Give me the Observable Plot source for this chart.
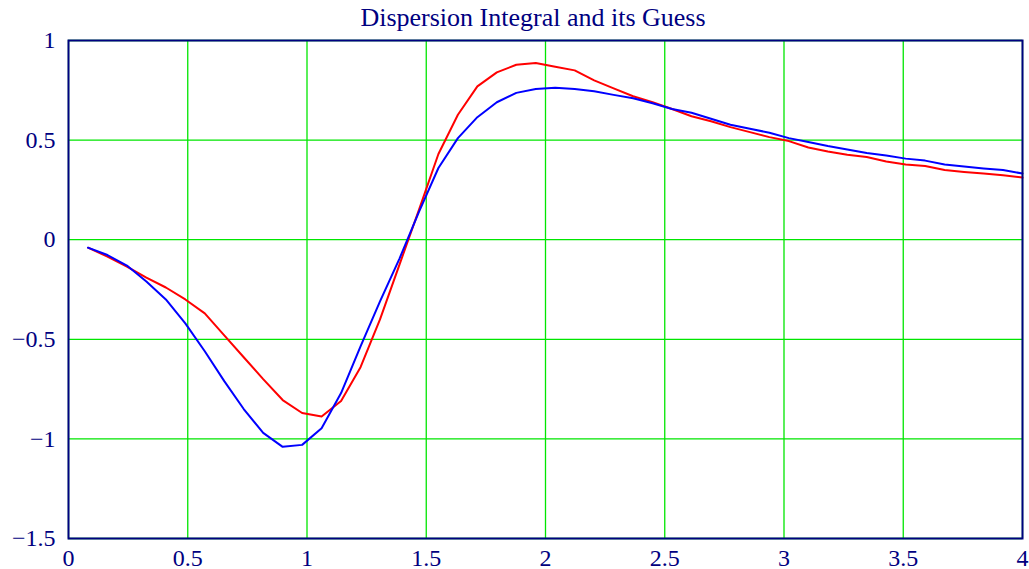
<!DOCTYPE html>
<html>
<head>
<meta charset="utf-8">
<script src="https://cdn.jsdelivr.net/npm/d3@7"></script>
<script src="https://cdn.jsdelivr.net/npm/@observablehq/plot@0.6"></script>
<style>
  html, body { margin: 0; padding: 0; background: #ffffff; }
  #wrap { position: relative; width: 1029px; height: 569px; }
  #title {
    position: absolute; top: 5px; left: 0; padding-left: 37px; width: 992px;
    line-height: 26px; font-family: "Liberation Serif", "Times New Roman", serif;
    font-size: 26px; color: #000080; text-align: center; white-space: nowrap; z-index: 2;
  }
  #chart svg { overflow: visible; }
</style>
</head>
<body>
<div id="wrap">
<div id="title">Dispersion Integral and its Guess</div>
<div id="chart"></div>
</div>
<script>
const xValues = [0.0816, 0.1633, 0.2449, 0.3265, 0.4082, 0.4898, 0.5714, 0.6531, 0.7347, 0.8163,
  0.8980, 0.9796, 1.0612, 1.1429, 1.2245, 1.3061, 1.3878, 1.4694, 1.5510, 1.6327,
  1.7143, 1.7959, 1.8776, 1.9592, 2.0408, 2.1224, 2.2041, 2.2857, 2.3673, 2.4490,
  2.5306, 2.6122, 2.6939, 2.7755, 2.8571, 2.9388, 3.0204, 3.1020, 3.1837, 3.2653,
  3.3469, 3.4286, 3.5102, 3.5918, 3.6735, 3.7551, 3.8367, 3.9184, 4.0000];
const guessRed = [-0.04, -0.085, -0.135, -0.19, -0.24, -0.30, -0.37, -0.48, -0.59, -0.70,
  -0.805, -0.87, -0.888, -0.81, -0.64, -0.40, -0.125, 0.15, 0.43, 0.627,
  0.77, 0.84, 0.878, 0.887, 0.868, 0.85, 0.80, 0.76, 0.72, 0.69,
  0.656, 0.62, 0.595, 0.565, 0.54, 0.515, 0.495, 0.463, 0.443, 0.427,
  0.415, 0.393, 0.378, 0.37, 0.35, 0.34, 0.332, 0.323, 0.312];
const integralBlue = [-0.04, -0.077, -0.13, -0.21, -0.30, -0.42, -0.56, -0.71, -0.85, -0.97,
  -1.04, -1.03, -0.947, -0.77, -0.535, -0.31, -0.095, 0.14, 0.36, 0.51,
  0.615, 0.69, 0.737, 0.757, 0.763, 0.757, 0.745, 0.727, 0.71, 0.685,
  0.656, 0.637, 0.607, 0.577, 0.557, 0.537, 0.51, 0.49, 0.47, 0.453,
  0.435, 0.423, 0.407, 0.397, 0.377, 0.367, 0.358, 0.35, 0.332];
const xTicks = [0, 0.5, 1, 1.5, 2, 2.5, 3, 3.5, 4];
const yTicks = [-1.5, -1, -0.5, 0, 0.5, 1];

const rows = xValues.map((x, i) => ({x, red: guessRed[i], blue: integralBlue[i]}));
const fmt = d => d < 0 ? "\u2212" + Math.abs(d) : String(d);
const gridColor = "#00e600";

const chart = Plot.plot({
  width: 1029,
  height: 569,
  marginLeft: 68,
  marginRight: 7,
  marginTop: 40,
  marginBottom: 31,
  style: {fontFamily: "Liberation Serif, Times New Roman, serif", fontSize: "24px", color: "#000080", background: "transparent", overflow: "visible"},
  x: {domain: [0, 4], ticks: xTicks, tickSize: 0, tickPadding: 10, tickFormat: fmt, label: null},
  y: {domain: [-1.5, 1], ticks: yTicks, tickSize: 0, tickPadding: 13, tickFormat: fmt, label: null},
  marks: [
    Plot.ruleX(xTicks, {stroke: gridColor, strokeWidth: 1.3}),
    Plot.ruleY(yTicks, {stroke: gridColor, strokeWidth: 1.3}),
    Plot.line(rows, {x: "x", y: "red", stroke: "#ff0000", strokeWidth: 2}),
    Plot.line(rows, {x: "x", y: "blue", stroke: "#0000ff", strokeWidth: 2}),
    Plot.frame({stroke: "#000080", strokeWidth: 2})
  ]
});
document.getElementById("chart").appendChild(chart);
</script>
</body>
</html>
